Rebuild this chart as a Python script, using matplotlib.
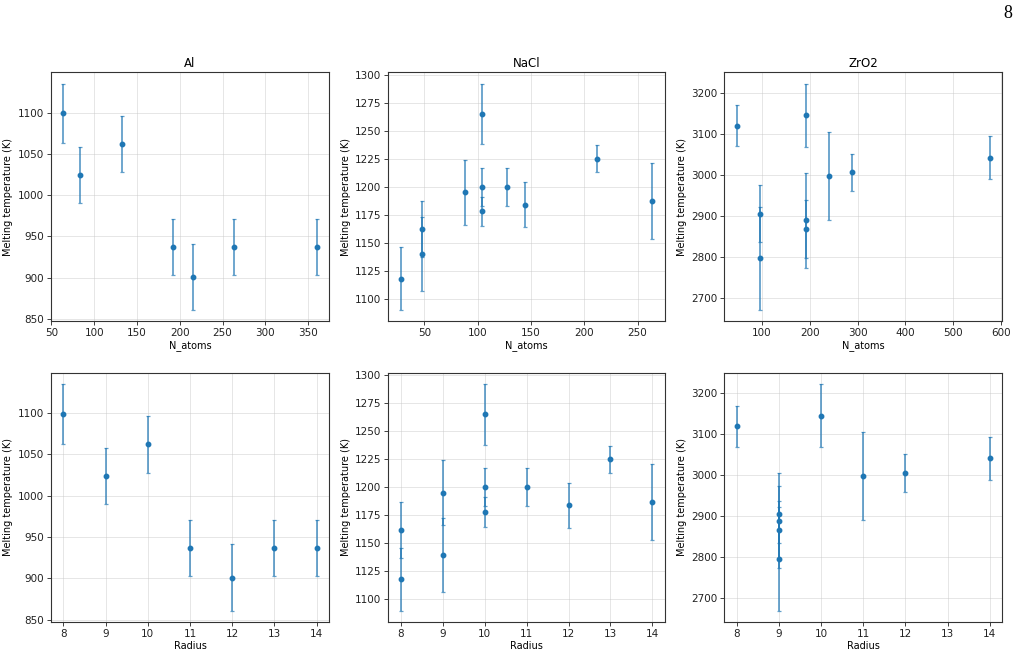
import matplotlib
matplotlib.use("Agg")
import matplotlib.pyplot as plt

# ---- data ----
al_natoms = [64, 84, 132, 192, 216, 264, 360]
al_radius = [8, 9, 10, 11, 12, 13, 14]
al_tm = [1099, 1024, 1062, 937, 901, 937, 937]
al_err = [36, 34, 34, 34, 40, 34, 34]

nacl_natoms = [28, 48, 48, 88, 104, 104, 104, 128, 144, 212, 264]
nacl_radius = [8, 8, 9, 9, 10, 10, 10, 11, 12, 13, 14]
nacl_tm = [1118, 1162, 1140, 1195, 1265, 1200, 1178, 1200, 1184, 1225, 1187]
nacl_err = [28, 25, 33, 29, 27, 17, 13, 17, 20, 12, 34]

zro2_natoms = [48, 96, 96, 192, 192, 192, 240, 288, 576]
zro2_radius = [8, 9, 9, 10, 9, 9, 11, 12, 14]
zro2_tm = [3120, 2905, 2796, 3146, 2889, 2867, 2998, 3006, 3042]
zro2_err = [50, 70, 126, 77, 116, 71, 107, 46, 52]

titles = ["Al", "NaCl", "ZrO2"]
ylabel = "Melting temperature (K)"

W, H = 1022, 657
fig = plt.figure(figsize=(W / 100, H / 100), dpi=100)

lefts = [50.7, 388.3, 724.3]
rights = [329.3, 665.0, 1002.3]
tops = [72.3, 372.7]
bottoms = [321.3, 622.0]

datasets = [
    (al_natoms, al_radius, al_tm, al_err),
    (nacl_natoms, nacl_radius, nacl_tm, nacl_err),
    (zro2_natoms, zro2_radius, zro2_tm, zro2_err),
]

color = "#1f77b4"
for c, (nat, rad, tm, err) in enumerate(datasets):
    for r in range(2):
        x0 = lefts[c] / W
        w = (rights[c] - lefts[c]) / W
        y0 = 1 - bottoms[r] / H
        h = (bottoms[r] - tops[r]) / H
        ax = fig.add_axes([x0, y0, w, h])
        xs = nat if r == 0 else rad
        ax.errorbar(xs, tm, yerr=err, fmt="none", ecolor=color, alpha=0.7,
                    elinewidth=1.3, capsize=1.6, capthick=0.9)
        ax.plot(xs, tm, "o", color=color, markersize=3.2, zorder=3)
        ax.grid(True, color="#c8c8c8", alpha=0.45, linewidth=0.7)
        ax.set_axisbelow(True)
        ax.tick_params(labelsize=7.5, width=0.6, length=3, colors="#222222", pad=2)
        for s in ax.spines.values():
            s.set_linewidth(0.8)
            s.set_color("#333333")
        ax.set_ylabel(ylabel, fontsize=7, labelpad=3)
        ax.set_xlabel("N_atoms" if r == 0 else "Radius", fontsize=7, labelpad=1.5)
        if r == 0:
            ax.set_title(titles[c], fontsize=8.5, pad=4)

fig.text(1008 / W, 1 - 13 / H, "8", fontsize=13, ha="center", va="center",
         family=["Liberation Serif", "DejaVu Serif"])

fig.savefig("out.png", dpi=100)
